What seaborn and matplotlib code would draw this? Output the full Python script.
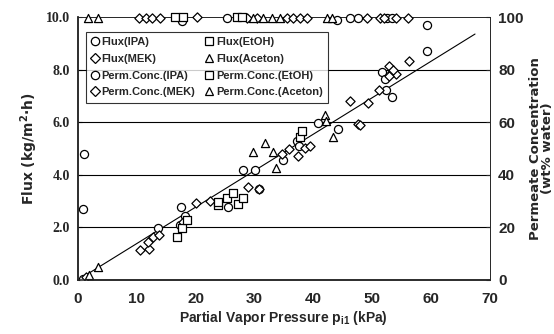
import numpy as np
import pandas as pd
import matplotlib
matplotlib.use("Agg")
import matplotlib.pyplot as plt
import seaborn as sns

# ==========================================
# Data
# ==========================================
# Flux (kg/m2 h) vs partial vapor pressure (kPa)
flux_ipa_x = [0.9, 13.6, 17.5, 18.1, 17.3, 25.5, 28.1, 30.1, 30.8, 34.9, 37.2, 37.5,
              40.8, 44.2, 51.6, 52.2, 52.4, 53.3, 59.3]
flux_ipa_y = [0.05, 1.96, 2.78, 2.42, 2.10, 2.78, 4.17, 4.19, 3.45, 4.55, 5.30, 5.10,
              5.96, 5.75, 7.89, 7.64, 7.22, 6.97, 8.71]

flux_mek_x = [1.3, 10.5, 12.1, 11.8, 12.8, 13.8, 17.9, 20.0, 22.4, 28.9, 30.8, 34.6,
              35.9, 37.4, 38.5, 39.4, 46.3, 47.6, 48.0, 49.3, 51.2, 52.9, 53.3, 54.1,
              52.8, 53.6, 56.2]
flux_mek_y = [0.12, 1.14, 1.17, 1.45, 1.64, 1.70, 2.20, 2.94, 3.00, 3.53, 3.47, 4.80,
              4.99, 4.71, 5.00, 5.11, 6.79, 5.93, 5.90, 6.73, 7.22, 8.14, 7.89, 7.83,
              7.76, 8.00, 8.33]

flux_etoh_x = [16.8, 17.6, 18.5, 23.8, 23.8, 25.3, 26.4, 27.2, 28.1, 37.7, 38.0]
flux_etoh_y = [1.64, 1.96, 2.27, 2.84, 2.97, 3.13, 3.31, 2.90, 3.13, 5.43, 5.68]

flux_acet_x = [1.9, 3.45, 29.8, 31.7, 33.2, 33.6, 42.0, 42.2, 43.4]
flux_acet_y = [0.19, 0.50, 4.86, 5.21, 4.86, 4.27, 6.29, 6.06, 5.43]

# Permeate concentration (wt% water)
conc_ipa_x = [1.0, 0.8, 17.6, 25.3, 44.0, 46.2, 47.6, 52.5, 53.4, 59.3]
conc_ipa_y = [48.0, 27.0, 98.5, 99.5, 98.8, 99.8, 99.8, 99.5, 99.5, 96.8]

conc_mek_x = [10.4, 11.6, 12.6, 13.9, 20.2, 28.7, 30.5, 35.5, 36.5, 37.7, 39.0,
              49.1, 51.3, 52.0, 54.0, 56.1]
conc_mek_y = [99.6, 99.8, 99.7, 99.8, 100.0, 99.5, 99.5, 99.6, 99.8, 99.7, 99.8,
              99.8, 99.7, 99.8, 99.8, 99.8]

conc_etoh_x = [16.5, 17.8, 27.0, 27.8]
conc_etoh_y = [100.0, 100.0, 100.0, 100.0]

conc_acet_x = [1.75, 3.45, 29.8, 31.4, 33.0, 34.3, 42.3, 43.2]
conc_acet_y = [99.5, 99.5, 99.5, 99.5, 99.5, 99.5, 99.5, 99.5]

x_ticks = [0, 10, 20, 30, 40, 50, 60, 70]
flux_ticks = [0, 2, 4, 6, 8, 10]
conc_ticks = [0, 20, 40, 60, 80, 100]

# ==========================================
# Plot
# ==========================================
sns.set_style("white")
plt.rcParams["font.family"] = ["Liberation Sans Narrow", "Liberation Sans", "DejaVu Sans"]

fig = plt.figure(figsize=(5.54, 3.34), dpi=100)
ax = fig.add_axes([0.141, 0.162, 0.743, 0.787])
ax2 = ax.twinx()

marker_kw = dict(s=34, facecolor="white", edgecolor="black", linewidth=0.9, zorder=3)

flux_series = [
    ("Flux(IPA)", flux_ipa_x, flux_ipa_y, "o"),
    ("Flux(MEK)", flux_mek_x, flux_mek_y, "D"),
    ("Flux(EtOH)", flux_etoh_x, flux_etoh_y, "s"),
    ("Flux(Aceton)", flux_acet_x, flux_acet_y, "^"),
]
conc_series = [
    ("Perm.Conc.(IPA)", conc_ipa_x, conc_ipa_y, "o"),
    ("Perm.Conc.(MEK)", conc_mek_x, conc_mek_y, "D"),
    ("Perm.Conc.(EtOH)", conc_etoh_x, conc_etoh_y, "s"),
    ("Perm.Conc.(Aceton)", conc_acet_x, conc_acet_y, "^"),
]

handles = {}
for name, xs, ys, m in flux_series:
    size = 22 if m == "D" else 34
    sns.scatterplot(x=xs, y=ys, marker=m, ax=ax, **{**marker_kw, "s": size})
    handles[name] = plt.Line2D([], [], marker=m, ls="", mfc="white", mec="black",
                               ms=5 if m == "D" else 6, mew=0.9)
for name, xs, ys, m in conc_series:
    size = 22 if m == "D" else 34
    sns.scatterplot(x=xs, y=ys, marker=m, ax=ax2, clip_on=False, **{**marker_kw, "s": size})
    handles[name] = plt.Line2D([], [], marker=m, ls="", mfc="white", mec="black",
                               ms=5 if m == "D" else 6, mew=0.9)

# straight fit through origin over all flux data
all_x = np.concatenate([np.array(s[1]) for s in flux_series])
all_y = np.concatenate([np.array(s[2]) for s in flux_series])
slope = np.sum(all_x * all_y) / np.sum(all_x ** 2)
fit_x = np.array([0, 67.5])
sns.lineplot(x=fit_x, y=slope * fit_x, ax=ax, color="black", linewidth=0.8, zorder=2)

# axes ranges and ticks
ax.set_xlim(0, 70)
ax.set_ylim(0, 10)
ax2.set_ylim(0, 100)
ax.set_xticks(x_ticks)
ax.set_yticks(flux_ticks)
ax.set_yticklabels([f"{v:.1f}" for v in flux_ticks], family=["Liberation Serif", "DejaVu Serif"],
                   fontweight="bold", fontsize=10)
ax.set_xticklabels([str(v) for v in x_ticks], fontweight="bold", fontsize=11)
ax2.set_yticks(conc_ticks)
ax2.set_yticklabels([str(v) for v in conc_ticks], fontweight="bold", fontsize=11)

for y in flux_ticks[1:-1]:
    ax.axhline(y, color="black", linewidth=0.8, zorder=1)

ax.tick_params(direction="in", length=3, width=0.8, pad=6)
ax2.tick_params(direction="in", length=3, width=0.8, pad=6)
ax.tick_params(axis="x", pad=9)

for a in (ax, ax2):
    a.spines["left"].set_linewidth(1.1)
    a.spines["bottom"].set_linewidth(1.1)
    a.spines["top"].set_linewidth(0.6)
    a.spines["right"].set_linewidth(0.6)
    a.spines["right"].set_linestyle((0, (2, 1)))
    a.spines["top"].set_linestyle((0, (3, 1)))

ax.set_xlabel("Partial Vapor Pressure p$_{\\mathregular{i1}}$ (kPa)", fontsize=10,
              fontweight="bold", labelpad=2)
ax.set_ylabel("Flux (kg/m$^{\\mathregular{2}}$·h)", fontsize=10, fontweight="bold",
              labelpad=4, family=["DejaVu Sans"])
ax2.set_ylabel("Permeate Concentration\n(wt% water)", fontsize=9.5, fontweight="bold",
               labelpad=4, linespacing=0.85, family=["DejaVu Sans"])

order = ["Flux(IPA)", "Flux(MEK)", "Perm.Conc.(IPA)", "Perm.Conc.(MEK)",
         "Flux(EtOH)", "Flux(Aceton)", "Perm.Conc.(EtOH)", "Perm.Conc.(Aceton)"]
leg = ax2.legend([handles[k] for k in order], order, ncol=2, loc="upper left",
                 bbox_to_anchor=(0.005, 0.965), frameon=True, fancybox=False,
                 edgecolor="black", fontsize=8, handlelength=0.6, handletextpad=0.3,
                 columnspacing=1.0, labelspacing=0.6, borderpad=0.5)
leg.get_frame().set_linewidth(0.8)
for t in leg.get_texts():
    t.set_fontweight("bold")

fig.savefig("out.png", dpi=100)
